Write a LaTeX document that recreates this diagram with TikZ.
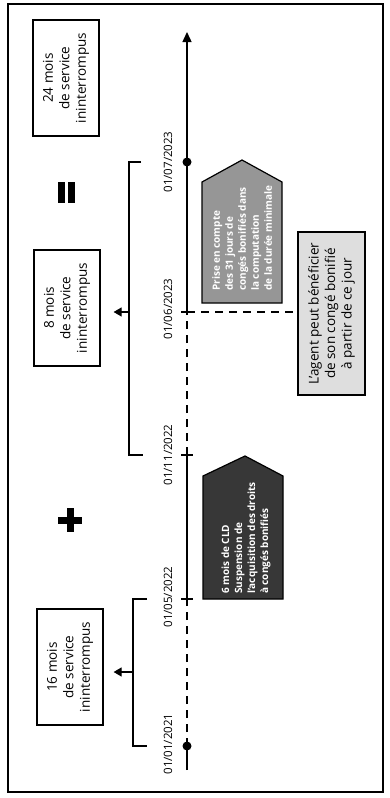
\documentclass[tikz,border=0pt]{standalone}
\usepackage{fontspec}
\setmainfont{Open Sans}
\usetikzlibrary{arrows.meta}
\definecolor{cldgray}{RGB}{55,55,55}
\definecolor{prisegray}{RGB}{150,150,150}
\definecolor{agentgray}{RGB}{222,222,222}

\begin{document}
\begin{tikzpicture}[x=1pt,y=-1pt,
    servicebox/.style={draw, line width=1.2pt, rotate=90, minimum width=116pt, minimum height=66pt,
        align=center, inner sep=0pt, font=\fontsize{13.5}{16.5}\selectfont},
    datelbl/.style={rotate=90, inner sep=0pt, font=\fontsize{11.5}{13}\selectfont},
    axisline/.style={line width=1.4pt},
    dashline/.style={line width=1.4pt, dash pattern=on 8pt off 6pt},
    pentxt/.style={rotate=90, align=left, text=white, inner sep=0pt, font=\fontsize{10}{13}\selectfont\bfseries},
    bracket/.style={line width=1.2pt},
    arr/.style={line width=1.2pt, -{Triangle[width=9pt,length=8pt]}}]
    \useasboundingbox (0,0) rectangle (390,798);
    \draw[line width=2.5pt] (8,4) rectangle (383,792);

    % Service boxes
    \node[servicebox] (b24) at (66,78) {24 mois\\de service\\ininterrompus};
    \node[servicebox] (b8) at (67,308) {8 mois\\de service\\ininterrompus};
    \node[servicebox] (b16) at (70,667) {16 mois\\de service\\ininterrompus};
    \node[servicebox, fill=agentgray, minimum width=163pt, minimum height=67pt] (agent) at (331.5,313.5)
        {L'agent peut bénéficier\\de son congé bonifié\\à partir de ce jour};

    % Equals and plus
    \fill (58,182) rectangle (65,203);
    \fill (68,182) rectangle (75,203);
    \fill (58,516.5) rectangle (82,523.5);
    \fill (66.5,508) rectangle (73.5,532);

    % Timeline
    \coordinate (axbot) at (187,770);
    \coordinate (t21) at (187,746);
    \coordinate (t22a) at (187,599);
    \coordinate (t22b) at (187,455);
    \coordinate (t23a) at (187,312);
    \coordinate (t23b) at (187,162);
    \coordinate (axtop) at (187,32);
    \draw[axisline] (axbot) -- (t21);
    \draw[dashline] (t21) -- (t22a);
    \draw[axisline] (t22a) -- (t22b);
    \draw[dashline] (t22b) -- (t23a);
    \draw[axisline, -{Triangle[width=9pt,length=10pt]}] (t23a) -- (axtop);
    \fill (t21) circle (4.5);
    \fill (t23b) circle (4.5);
    \foreach \t in {t22a,t22b,t23a}
        \draw[axisline] ([xshift=-6pt]\t) -- ([xshift=6pt]\t);
    \draw[dashline] (t23a) -- (t23a -| agent.north);

    % Dates
    \node[datelbl] (d21) at (168,744) {01/01/2021};
    \node[datelbl] (d22a) at (168,597) {01/05/2022};
    \node[datelbl] (d22b) at (168,455) {01/11/2022};
    \node[datelbl] (d23a) at (168,309) {01/06/2023};
    \node[datelbl] (d23b) at (168,162) {01/07/2023};

    % Brackets
    \draw[bracket] (141,162) -- (129,162) -- (129,455) -- (143,455);
    \coordinate (m8) at (129,312);
    \draw[arr, shorten >=13pt] (m8) -- (m8 -| b8.south);
    \draw[bracket] (147,599) -- (133,599) -- (133,746) -- (147,746);
    \coordinate (m16) at (133,672);
    \draw[arr, shorten >=10pt] (m16) -- (m16 -| b16.south);

    % Arrow-shaped notes
    \filldraw[fill=prisegray, line width=1.2pt] (202,303) -- (202,182) -- (242,160) -- (282,182) -- (282,303) -- cycle;
    \node[pentxt] (prise) at (242,238) {Prise en compte\\des 31 jours de\\congés bonifiés dans\\la computation\\de la durée minimale};
    \filldraw[fill=cldgray, line width=1.2pt] (203,599) -- (203,476) -- (245,456) -- (283,476) -- (283,599) -- cycle;
    \node[pentxt] (cld) at (246,538) {6 mois de CLD\\Suspension de\\l'acquisition des droits\\à congés bonifiés};
\end{tikzpicture}
\end{document}
